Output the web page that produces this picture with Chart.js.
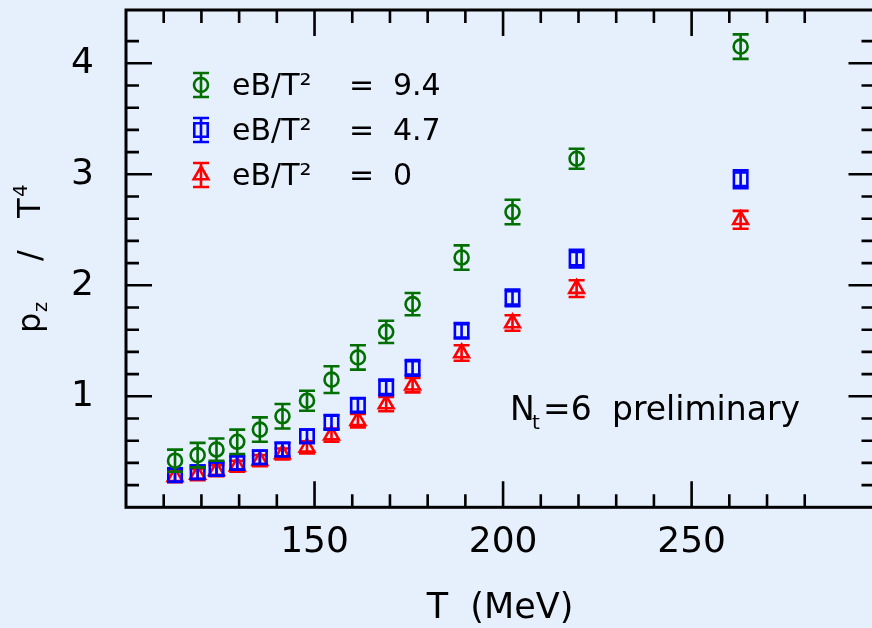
<!DOCTYPE html>
<html>
<head>
<meta charset="utf-8">
<script src="https://cdn.jsdelivr.net/npm/chart.js@4.4.0/dist/chart.umd.min.js"></script>
<style>
  html, body { margin: 0; padding: 0; background: #e6f0fc; overflow: hidden; }
  #wrap { width: 872px; height: 628px; overflow: hidden; position: relative; }
  #chart { position: absolute; left: 0; top: 0; }
</style>
</head>
<body>
<div id="wrap"><canvas id="chart" width="877" height="628"></canvas></div>
<script>
// temperatures (MeV), shared by all three series
const temps = [113, 119, 124, 129.5, 135.5, 141.5, 148, 154.5, 161.5, 169, 176, 189, 202.5, 219.5, 263];

// eB/T^2 = 9.4
const pzHigh = [0.42, 0.47, 0.52, 0.59, 0.70, 0.82, 0.96, 1.15, 1.35, 1.58, 1.83, 2.25, 2.66, 3.14, 4.15];
const errHigh = [0.10, 0.11, 0.10, 0.11, 0.11, 0.11, 0.09, 0.12, 0.11, 0.10, 0.10, 0.11, 0.11, 0.09, 0.11];

// eB/T^2 = 4.7
const pzMid = [0.29, 0.315, 0.345, 0.40, 0.45, 0.52, 0.64, 0.765, 0.92, 1.08, 1.256, 1.59, 1.886, 2.24, 2.955];
const errMid = [0.06, 0.06, 0.06, 0.06, 0.06, 0.06, 0.06, 0.065, 0.065, 0.07, 0.07, 0.07, 0.075, 0.08, 0.08];

// eB/T^2 = 0
const pzZero = [0.275, 0.295, 0.33, 0.37, 0.42, 0.48, 0.54, 0.65, 0.78, 0.93, 1.10, 1.39, 1.66, 1.97, 2.59];
const errZero = [0.05, 0.05, 0.05, 0.05, 0.05, 0.05, 0.055, 0.06, 0.06, 0.065, 0.065, 0.07, 0.07, 0.075, 0.08];

const seriesNames = ["9.4", "4.7", "0"];
const xTickLabels = [150, 200, 250];
const yTickLabels = [1, 2, 3, 4];

const green = "#006f00";
const blue = "#0000ff";
const red = "#ff0000";
const font = "DejaVu Sans";

const series = [
  { vals: pzHigh, errs: errHigh, color: green, style: "circle", radius: 7 },
  { vals: pzMid, errs: errMid, color: blue, style: "rect", radius: 9.5 },
  { vals: pzZero, errs: errZero, color: red, style: "triangle", radius: 8.5 },
];

function errorBar(ctx, x, yTop, yBot, color) {
  ctx.save();
  ctx.strokeStyle = color;
  ctx.lineWidth = 2.6;
  ctx.beginPath();
  ctx.moveTo(x, yTop); ctx.lineTo(x, yBot);
  ctx.moveTo(x - 8, yTop); ctx.lineTo(x + 8, yTop);
  ctx.moveTo(x - 8, yBot); ctx.lineTo(x + 8, yBot);
  ctx.stroke();
  ctx.restore();
}

// no extra room for the end labels, the plot box is fixed
function noPadding(scale) {
  scale.paddingTop = 0;
  scale.paddingBottom = 0;
  scale.paddingLeft = 0;
  scale.paddingRight = 0;
}

// error bars, drawn just before each dataset's markers
const errorBars = {
  id: "errorBars",
  beforeDatasetDraw(chart, args) {
    const s = series[args.index];
    const xs = chart.scales.x, ys = chart.scales.y;
    temps.forEach((t, j) => {
      errorBar(chart.ctx, xs.getPixelForValue(t),
        ys.getPixelForValue(s.vals[j] + s.errs[j]),
        ys.getPixelForValue(s.vals[j] - s.errs[j]), s.color);
    });
  }
};

// frame with inward ticks on all four sides, legend and texts
const frame = {
  id: "frame",
  afterDraw(chart) {
    const ctx = chart.ctx;
    const { left, right, top, bottom } = chart.chartArea;
    const xs = chart.scales.x, ys = chart.scales.y;
    ctx.save();
    ctx.strokeStyle = "#000";
    ctx.lineWidth = 3;
    ctx.strokeRect(left, top, right - left, bottom - top);
    ctx.lineWidth = 2.6;
    ctx.beginPath();
    xs.ticks.forEach(t => {
      if (t.value <= xs.min || t.value >= xs.max) return;
      const px = xs.getPixelForValue(t.value);
      const len = Math.abs(t.value % 50) < 1e-6 ? 26 : 13;
      ctx.moveTo(px, bottom); ctx.lineTo(px, bottom - len);
      ctx.moveTo(px, top); ctx.lineTo(px, top + len);
    });
    ys.ticks.forEach(t => {
      if (t.value <= ys.min || t.value >= ys.max) return;
      const py = ys.getPixelForValue(t.value);
      const len = Math.abs(t.value - Math.round(t.value)) < 1e-6 ? 26 : 13;
      ctx.moveTo(left, py); ctx.lineTo(left + len, py);
      ctx.moveTo(right, py); ctx.lineTo(right - len, py);
    });
    ctx.stroke();

    // legend
    series.forEach((s, k) => {
      const cx = 201, cy = 85 + 45 * k;
      errorBar(ctx, cx, cy - 12, cy + 12, s.color);
      ctx.strokeStyle = s.color;
      ctx.fillStyle = "rgba(0,0,0,0)";
      Chart.helpers.drawPoint(ctx, { pointStyle: s.style, radius: s.radius, borderWidth: 2.6, rotation: 0 }, cx, cy);
      ctx.fillStyle = "#000";
      ctx.font = `30px "${font}"`;
      ctx.textBaseline = "alphabetic";
      ctx.textAlign = "left";
      ctx.fillText("eB/T\u00b2", 232, cy + 10);
      ctx.fillText("=", 349, cy + 10);
      ctx.fillText(seriesNames[k], 393, cy + 10);
    });

    // N_t=6 preliminary
    ctx.fillStyle = "#000";
    ctx.font = `33px "${font}"`;
    ctx.fillText("N", 510, 420);
    ctx.font = `20px "${font}"`;
    ctx.fillText("t", 532, 429);
    ctx.font = `33px "${font}"`;
    ctx.fillText("=6", 543, 420);
    ctx.fillText("preliminary", 612, 420);

    // x title
    ctx.font = `35px "${font}"`;
    ctx.textAlign = "center";
    ctx.fillText("T  (MeV)", 500, 618);

    // y title, rotated
    ctx.translate(40, 333);
    ctx.rotate(-Math.PI / 2);
    ctx.textAlign = "left";
    ctx.font = `32px "${font}"`;
    ctx.fillText("p", 0, 0);
    ctx.font = `19px "${font}"`;
    ctx.fillText("z", 21, 7);
    ctx.font = `32px "${font}"`;
    ctx.fillText("/", 72, 0);
    ctx.fillText("T", 115, 0);
    ctx.font = `20px "${font}"`;
    ctx.fillText("4", 136, -13);
    ctx.restore();
  }
};

new Chart(document.getElementById("chart"), {
  type: "scatter",
  data: {
    datasets: series.map((s, k) => ({
      label: "eB/T\u00b2 = " + seriesNames[k],
      data: temps.map((t, j) => ({ x: t, y: s.vals[j] })),
      pointStyle: s.style,
      pointRadius: s.radius,
      pointBorderWidth: 2.6,
      borderColor: s.color,
      backgroundColor: "rgba(0,0,0,0)",
    })),
  },
  options: {
    responsive: false,
    animation: false,
    devicePixelRatio: 1,
    // right axis sits just past the edge of the picture
    layout: { autoPadding: false, padding: { top: 10, right: 2.5, left: 0, bottom: 0 } },
    plugins: { legend: { display: false }, tooltip: { enabled: false } },
    scales: {
      x: {
        type: "linear",
        min: 100,
        max: 298.5,
        grid: { display: false },
        border: { display: false },
        afterFit: (scale) => { scale.height = 120.7; noPadding(scale); },
        ticks: {
          stepSize: 10,
          autoSkip: false,
          maxRotation: 0,
          padding: 6,
          color: "#000",
          font: { family: font, size: 36 },
          callback: (v) => xTickLabels.includes(v) ? String(v) : "",
        },
      },
      y: {
        min: 0,
        max: 4.48,
        grid: { display: false },
        border: { display: false },
        afterFit: (scale) => { scale.width = 126; noPadding(scale); },
        ticks: {
          stepSize: 0.2,
          autoSkip: false,
          padding: 24,
          color: "#000",
          font: { family: font, size: 36 },
          callback: (v) => (Math.abs(v - Math.round(v)) < 1e-6 && yTickLabels.includes(Math.round(v))) ? String(Math.round(v)) : "",
        },
      },
    },
  },
  plugins: [errorBars, frame],
});
</script>
</body>
</html>
